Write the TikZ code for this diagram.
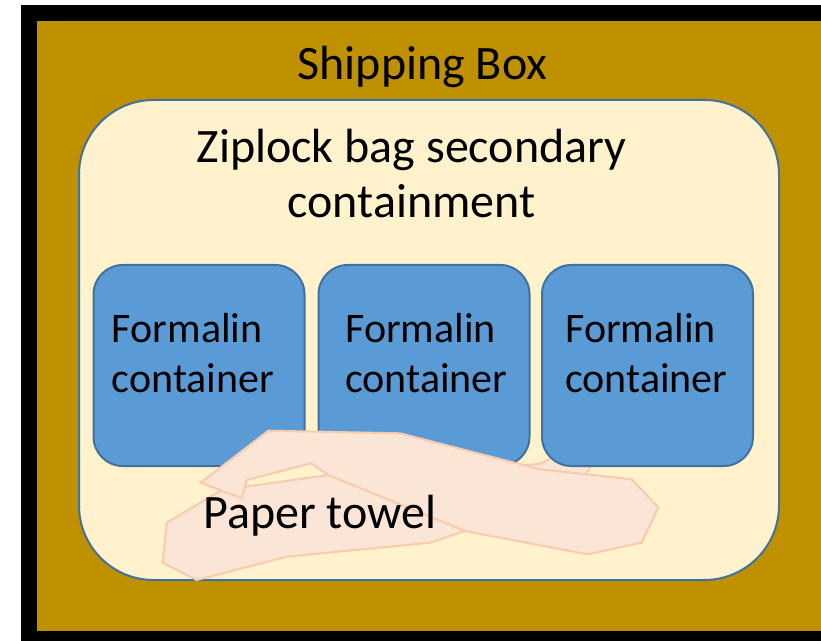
\documentclass[tikz,border=0pt]{standalone}
\usepackage{fontspec}
\setmainfont{Carlito}
\definecolor{boxgold}{HTML}{BF9000}
\definecolor{bagfill}{HTML}{FFF2CC}
\definecolor{blueline}{HTML}{41719C}
\definecolor{jarfill}{HTML}{5B9BD5}
\definecolor{towelfill}{HTML}{FBE5D6}
\definecolor{towelline}{HTML}{F8CBAD}
\tikzset{
  bagshape/.style={draw=blueline, fill=bagfill, line width=1.5pt,
    rounded corners=56pt, minimum width=525pt, minimum height=360pt},
  jarshape/.style={draw=blueline, fill=jarfill, line width=1.5pt,
    rounded corners=22pt, minimum width=158.25pt, minimum height=150.75pt,
    inner sep=0pt},
  jarlabel/.style={align=left, inner sep=0pt, anchor=base west,
    font=\fontsize{31.5}{37.5}\selectfont},
  towelpiece/.style={draw=towelline, fill=towelfill, line width=1.5pt},
  biglabel/.style={font=\fontsize{36}{41.25}\selectfont, inner sep=0pt}
}
\begin{document}
\begin{tikzpicture}[x=0.75pt, y=-0.75pt]
  \useasboundingbox (0,0) rectangle (821,641);
  \clip (0,0) rectangle (821,641);

  % Draw the shipping box
  \draw[line width=12pt, fill=boxgold] (29,13) rectangle (831,639);
  \node[biglabel, anchor=base] (boxlabel) at (422.5,80) {Shipping Box};

  % Draw the ziplock bag
  \node[bagshape] (bag) at (429,340) {};
  \node[biglabel, align=center, anchor=base] (baglabel) at (411.5,218)
    {Ziplock bag secondary\\containment};

  % Paper towel, the part behind the containers
  \draw[towelpiece] (166.7,522.7) -- (221.7,490) -- (328.3,475) -- (470,468)
    -- (540,464) -- (555,456) -- (595,460) -- (586,474) -- (465,531)
    -- (430,542.7) -- (286.7,556.7) -- (196.7,580) -- (162.7,562.7) -- cycle;

  % Draw the formalin containers
  \foreach \n/\x/\tx in {1/199/111.7, 2/424/345, 3/647.5/565} {
    \node[jarshape] (jar\n) at (\x,365.5) {};
    \node[jarlabel] (jartext\n) at (\tx,393) {Formalin\\container};
  }

  % Paper towel, the folded part on top
  \draw[towelpiece] (268.3,430.7) -- (400,433.3) -- (540,469.3) -- (631.7,479.3)
    -- (658.3,507.3) -- (641.7,542.7) -- (587.3,554.3) -- (465,531)
    -- (328.3,475) -- (311,463.3) -- (246.7,480) -- (241.7,498.3)
    -- (200.7,482.7) -- cycle;
  \node[biglabel, anchor=base west] (towel) at (203,528) {Paper towel};
\end{tikzpicture}
\end{document}
